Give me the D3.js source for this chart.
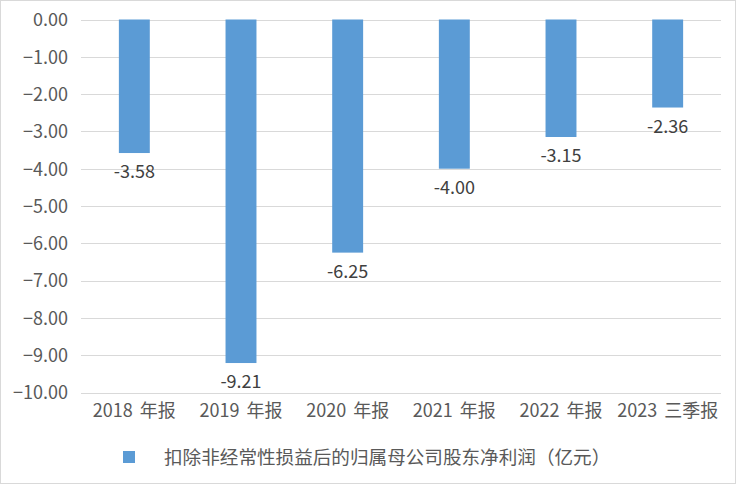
<!DOCTYPE html>
<html><head><meta charset="utf-8">
<script src="https://cdn.jsdelivr.net/npm/d3@7"></script>
<style>body{margin:0;background:#fff}</style>
</head><body>
<svg id="c" width="736" height="484"></svg>
<script>
const categories = ["2018 年报","2019 年报","2020 年报","2021 年报","2022 年报","2023 三季报"];
const values = [-3.58,-9.21,-6.25,-4.00,-3.15,-2.36];
const yTicks = [0,-1,-2,-3,-4,-5,-6,-7,-8,-9,-10];
const seriesName = "扣除非经常性损益后的归属母公司股东净利润（亿元）";

const font = "'Microsoft YaHei','Noto Sans CJK SC',sans-serif";
const svg = d3.select("#c");
svg.append("rect").attr("x",0.5).attr("y",0.5).attr("width",735).attr("height",483)
  .attr("fill","#fff").attr("stroke","#d9d9d9");

const x = d3.scaleBand().domain(categories).range([81,721]).padding(0);
const y = d3.scaleLinear().domain([0,-10]).range([19.5,392.5]);
const barW = x.bandwidth()*0.29;

const g = svg.append("g");
g.selectAll("line.grid").data(yTicks).join("line")
  .attr("x1",81).attr("x2",721)
  .attr("y1",d=>Math.round(y(d))+0.5).attr("y2",d=>Math.round(y(d))+0.5)
  .attr("stroke","#d9d9d9").attr("stroke-width",1);

const yAxis = d3.axisLeft(y).tickValues(yTicks).tickSize(0).tickPadding(0).tickFormat(d3.format(".2f"));
svg.append("g").attr("transform","translate(68,0)").call(yAxis)
  .call(s=>s.select(".domain").remove())
  .selectAll("text").attr("fill","#595959").style("font-size","18px").style("font-family",font).attr("dy","0.35em");

g.selectAll("rect.bar").data(values).join("rect")
  .attr("x",(d,i)=>x(categories[i])+x.bandwidth()/2-barW/2)
  .attr("y",y(0)).attr("width",barW).attr("height",d=>y(d)-y(0))
  .attr("fill","#5b9bd5");

g.selectAll("text.lbl").data(values).join("text")
  .attr("x",(d,i)=>x(categories[i])+x.bandwidth()/2)
  .attr("y",d=>y(d)+25)
  .attr("text-anchor","middle").attr("fill","#404040")
  .style("font-size","18px").style("font-family",font)
  .text(d=>d.toFixed(2));

const xAxis = d3.axisBottom(x).tickSize(0).tickPadding(0);
svg.append("g").attr("transform","translate(0,411)").call(xAxis)
  .call(s=>s.select(".domain").remove())
  .selectAll("text").attr("fill","#595959").style("font-size","18px").style("word-spacing","3px")
  .style("font-family",font).attr("dy","0.35em");

const lg = svg.append("g");
lg.append("rect").attr("x",123).attr("y",451).attr("width",12).attr("height",12).attr("fill","#5b9bd5");
lg.append("text").attr("x",164).attr("y",457).attr("dy","0.35em").attr("fill","#595959")
  .style("font-size","18.6px").style("font-family",font).text(seriesName);
</script>
</body></html>
